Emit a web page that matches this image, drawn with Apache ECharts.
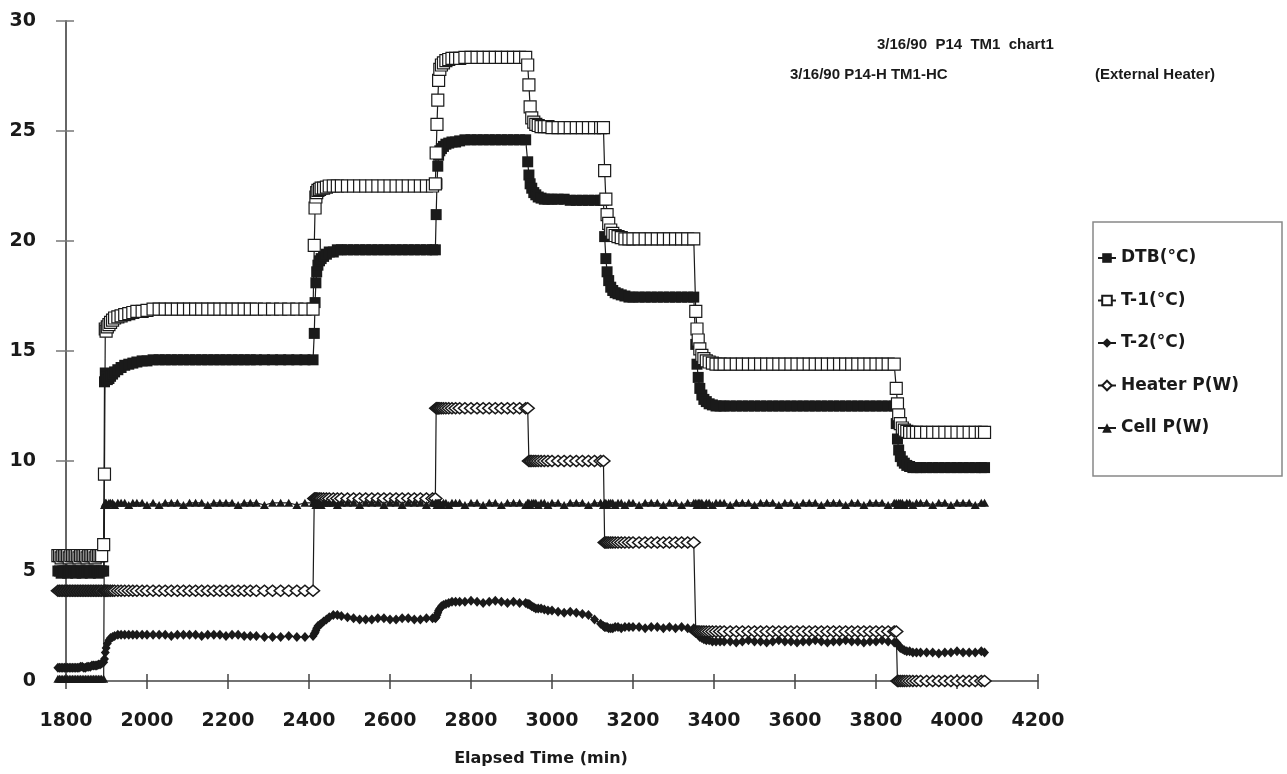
<!DOCTYPE html>
<html><head><meta charset="utf-8">
<script src="https://cdn.jsdelivr.net/npm/echarts@6/dist/echarts.min.js"></script>
<style>html,body{margin:0;padding:0;background:#fff}#c{width:1287px;height:774px}</style>
</head><body><div id="c"></div>
<script>
// Elapsed time (min), shared by all series
const time = [
  1780,1784,1788,1792,1796,1800,1804,1808,1812,1816,1820,1824,1828,1832,1836,1840,1844,1848,1852,1856,1860,1864,1868,1872,1876,1880,1884,1888,
  1893,1895,1897,1899,1902,1906,1910,1915,1920,1928,1936,1945,1955,1965,1975,1988,2000,
  2015,2030,2045,2060,2075,2090,2105,2120,2135,2150,2165,2180,2195,2210,2225,2240,2255,2270,2290,2310,2330,2350,2370,2390,2410,
  2413,2415,2417,2419,2422,2426,2430,2436,2443,2450,2460,2470,2480,2495,
  2510,2525,2540,2555,2570,2585,2600,2615,2630,2645,2660,2675,2690,2705,
  2712,2714,2716,2718,2720,2723,2727,2732,2738,2745,2753,2762,2772,2785,
  2800,2815,2830,2845,2860,2875,2890,2905,2920,2935,
  2940,2943,2946,2950,2955,2960,2966,2973,2981,2990,3000,
  3015,3030,3045,3060,3075,3090,3105,3120,3127,
  3130,3133,3136,3140,3145,3150,3156,3163,3171,3180,3190,3200,
  3215,3230,3245,3260,3275,3290,3305,3320,3335,3350,
  3355,3358,3361,3365,3370,3375,3381,3388,3396,3405,3415,3425,
  3440,3455,3470,3485,3500,3515,3530,3545,3560,3575,3590,3605,3620,3635,3650,3665,3680,3695,3710,3725,3740,3755,3770,3785,3800,3815,3830,3845,
  3850,3853,3856,3860,3865,3870,3876,3883,3891,3900,3910,
  3925,3940,3955,3970,3985,4000,4015,4030,4045,4060,4068
];
const dtb = [
  5.0,5.0,4.9,5.0,5.0,5.0,4.9,5.0,5.0,5.0,5.0,4.9,5.0,5.0,5.0,4.9,5.0,5.0,5.0,5.0,4.9,5.0,5.0,5.0,5.0,4.9,5.0,5.0,
  5.0,13.6,14.0,13.8,13.7,13.75,13.85,13.95,14.05,14.15,14.25,14.35,14.4,14.45,14.5,14.55,14.55,
  14.6,14.6,14.6,14.6,14.6,14.6,14.6,14.6,14.6,14.6,14.6,14.6,14.6,14.6,14.6,14.6,14.6,14.6,14.6,14.6,14.6,14.6,14.6,14.6,14.6,
  15.8,17.2,18.1,18.6,18.9,19.1,19.2,19.3,19.4,19.5,19.5,19.6,19.6,19.6,
  19.6,19.6,19.6,19.6,19.6,19.6,19.6,19.6,19.6,19.6,19.6,19.6,19.6,19.6,
  19.6,21.2,22.6,23.4,23.9,24.1,24.2,24.3,24.4,24.45,24.5,24.5,24.55,24.6,
  24.6,24.6,24.6,24.6,24.6,24.6,24.6,24.6,24.6,24.6,
  23.6,23.0,22.6,22.4,22.2,22.1,22.0,21.95,21.9,21.9,21.9,
  21.9,21.9,21.85,21.85,21.85,21.85,21.85,21.85,21.85,
  20.2,19.2,18.6,18.2,17.9,17.75,17.65,17.6,17.55,17.5,17.45,17.45,
  17.45,17.45,17.45,17.45,17.45,17.45,17.45,17.45,17.45,17.45,
  15.3,14.4,13.8,13.3,13.0,12.8,12.7,12.6,12.55,12.5,12.5,12.5,
  12.5,12.5,12.5,12.5,12.5,12.5,12.5,12.5,12.5,12.5,12.5,12.5,12.5,12.5,12.5,12.5,12.5,12.5,12.5,12.5,12.5,12.5,12.5,12.5,12.5,12.5,12.5,12.5,
  11.7,11.0,10.5,10.2,10.0,9.9,9.8,9.75,9.7,9.7,9.7,
  9.7,9.7,9.7,9.7,9.7,9.7,9.7,9.7,9.7,9.7,9.7
];
const t1 = [
  5.7,5.7,5.6,5.7,5.7,5.7,5.7,5.6,5.7,5.7,5.7,5.7,5.7,5.6,5.7,5.7,5.7,5.7,5.6,5.7,5.7,5.7,5.7,5.6,5.7,5.7,5.7,5.7,
  6.2,9.4,16.0,15.9,16.1,16.2,16.3,16.4,16.5,16.55,16.6,16.65,16.7,16.75,16.8,16.8,16.85,
  16.9,16.9,16.9,16.9,16.9,16.9,16.9,16.9,16.9,16.9,16.9,16.9,16.9,16.9,16.9,16.9,16.9,16.9,16.9,16.9,16.9,16.9,16.9,16.9,16.9,
  19.8,21.5,22.0,22.2,22.3,22.35,22.4,22.4,22.45,22.5,22.5,22.5,22.5,22.5,
  22.5,22.5,22.5,22.5,22.5,22.5,22.5,22.5,22.5,22.5,22.5,22.5,22.5,22.5,
  22.6,24.0,25.3,26.4,27.3,27.8,28.0,28.1,28.2,28.25,28.3,28.3,28.3,28.35,
  28.35,28.35,28.35,28.35,28.35,28.35,28.35,28.35,28.35,28.35,
  28.0,27.1,26.1,25.6,25.4,25.3,25.25,25.2,25.2,25.2,25.15,
  25.15,25.15,25.15,25.15,25.15,25.15,25.15,25.15,25.15,
  23.2,21.9,21.2,20.8,20.5,20.35,20.25,20.2,20.15,20.1,20.1,20.1,
  20.1,20.1,20.1,20.1,20.1,20.1,20.1,20.1,20.1,20.1,
  16.8,16.0,15.5,15.1,14.8,14.65,14.55,14.5,14.45,14.4,14.4,14.4,
  14.4,14.4,14.4,14.4,14.4,14.4,14.4,14.4,14.4,14.4,14.4,14.4,14.4,14.4,14.4,14.4,14.4,14.4,14.4,14.4,14.4,14.4,14.4,14.4,14.4,14.4,14.4,14.4,
  13.3,12.6,12.1,11.7,11.5,11.4,11.35,11.3,11.3,11.3,11.3,
  11.3,11.3,11.3,11.3,11.3,11.3,11.3,11.3,11.3,11.3,11.3
];
const t2 = [
  0.6,0.6,0.6,0.6,0.6,0.6,0.6,0.6,0.6,0.6,0.6,0.6,0.6,0.6,0.65,0.65,0.6,0.6,0.65,0.65,0.65,0.7,0.7,0.7,0.7,0.75,0.75,0.8,
  0.85,1.0,1.3,1.5,1.7,1.85,1.95,2.0,2.05,2.1,2.1,2.1,2.1,2.1,2.1,2.1,2.1,
  2.1,2.1,2.1,2.05,2.1,2.1,2.1,2.1,2.05,2.1,2.1,2.1,2.05,2.1,2.1,2.05,2.05,2.05,2.0,2.0,2.0,2.05,2.0,2.0,2.05,
  2.15,2.2,2.3,2.4,2.5,2.55,2.6,2.7,2.8,2.9,3.0,3.0,2.95,2.9,
  2.85,2.8,2.8,2.8,2.85,2.85,2.8,2.8,2.85,2.85,2.8,2.8,2.85,2.85,
  2.85,2.9,3.0,3.1,3.2,3.3,3.4,3.45,3.5,3.55,3.6,3.6,3.6,3.6,
  3.65,3.6,3.55,3.6,3.65,3.6,3.55,3.6,3.55,3.55,
  3.5,3.5,3.45,3.4,3.35,3.3,3.3,3.3,3.25,3.2,3.2,
  3.15,3.1,3.15,3.1,3.05,3.0,2.8,2.6,2.5,
  2.45,2.45,2.45,2.4,2.4,2.4,2.45,2.45,2.4,2.45,2.45,2.45,
  2.45,2.4,2.45,2.45,2.4,2.45,2.4,2.45,2.4,2.4,
  2.3,2.2,2.1,2.0,1.95,1.9,1.85,1.85,1.8,1.8,1.8,1.8,
  1.8,1.75,1.8,1.85,1.8,1.8,1.75,1.8,1.85,1.8,1.8,1.75,1.8,1.8,1.85,1.8,1.75,1.8,1.8,1.85,1.8,1.8,1.75,1.8,1.8,1.85,1.8,1.75,
  1.75,1.7,1.6,1.5,1.45,1.4,1.35,1.35,1.3,1.3,1.3,
  1.3,1.3,1.25,1.3,1.3,1.35,1.3,1.3,1.3,1.35,1.3
];
const heater = [
  4.1,4.1,4.1,4.1,4.1,4.1,4.1,4.1,4.1,4.1,4.1,4.1,4.1,4.1,4.1,4.1,4.1,4.1,4.1,4.1,4.1,4.1,4.1,4.1,4.1,4.1,4.1,4.1,
  4.1,4.1,4.1,4.1,4.1,4.1,4.1,4.1,4.1,4.1,4.1,4.1,4.1,4.1,4.1,4.1,4.1,
  4.1,4.1,4.1,4.1,4.1,4.1,4.1,4.1,4.1,4.1,4.1,4.1,4.1,4.1,4.1,4.1,4.1,4.1,4.1,4.1,4.1,4.1,4.1,4.1,4.1,
  8.3,8.3,8.3,8.3,8.3,8.3,8.3,8.3,8.3,8.3,8.3,8.3,8.3,8.3,
  8.3,8.3,8.3,8.3,8.3,8.3,8.3,8.3,8.3,8.3,8.3,8.3,8.3,8.3,
  8.3,12.4,12.4,12.4,12.4,12.4,12.4,12.4,12.4,12.4,12.4,12.4,12.4,12.4,
  12.4,12.4,12.4,12.4,12.4,12.4,12.4,12.4,12.4,12.4,
  12.4,10.0,10.0,10.0,10.0,10.0,10.0,10.0,10.0,10.0,10.0,
  10.0,10.0,10.0,10.0,10.0,10.0,10.0,10.0,10.0,
  6.3,6.3,6.3,6.3,6.3,6.3,6.3,6.3,6.3,6.3,6.3,6.3,
  6.3,6.3,6.3,6.3,6.3,6.3,6.3,6.3,6.3,6.3,
  2.25,2.25,2.25,2.25,2.25,2.25,2.25,2.25,2.25,2.25,2.25,2.25,
  2.25,2.25,2.25,2.25,2.25,2.25,2.25,2.25,2.25,2.25,2.25,2.25,2.25,2.25,2.25,2.25,2.25,2.25,2.25,2.25,2.25,2.25,2.25,2.25,2.25,2.25,2.25,2.25,
  2.25,0,0,0,0,0,0,0,0,0,0,
  0,0,0,0,0,0,0,0,0,0,0
];
const cell = [
  0.1,0.1,0.1,0.1,0.1,0.1,0.1,0.1,0.1,0.1,0.1,0.1,0.1,0.1,0.1,0.1,0.1,0.1,0.1,0.1,0.1,0.1,0.1,0.1,0.1,0.1,0.1,0.1,
  0.1,8.0,8.1,8.1,8.0,8.1,8.1,8.1,8.0,8.1,8.1,8.1,8.0,8.1,8.1,8.1,8.0,
  8.1,8.0,8.1,8.1,8.1,8.0,8.1,8.1,8.1,8.0,8.1,8.1,8.1,8.1,8.0,8.1,8.1,8.1,8.0,8.1,8.1,8.1,8.0,8.1,8.1,
  8.1,8.1,8.0,8.1,8.1,8.1,8.0,8.1,8.1,8.1,8.1,8.0,8.1,8.1,
  8.1,8.0,8.1,8.1,8.1,8.0,8.1,8.1,8.0,8.1,8.1,8.1,8.0,8.1,
  8.1,8.1,8.0,8.1,8.1,8.1,8.0,8.1,8.1,8.0,8.1,8.1,8.1,8.0,
  8.1,8.1,8.0,8.1,8.1,8.0,8.1,8.1,8.1,8.0,
  8.1,8.1,8.0,8.1,8.1,8.1,8.0,8.1,8.1,8.0,8.1,
  8.1,8.0,8.1,8.1,8.1,8.0,8.1,8.1,8.0,
  8.1,8.1,8.0,8.1,8.1,8.1,8.0,8.1,8.1,8.0,8.1,8.1,
  8.0,8.1,8.1,8.1,8.0,8.1,8.1,8.0,8.1,8.1,
  8.1,8.0,8.1,8.1,8.1,8.0,8.1,8.1,8.0,8.1,8.1,8.1,
  8.0,8.1,8.1,8.1,8.0,8.1,8.1,8.1,8.0,8.1,8.1,8.0,8.1,8.1,8.1,8.0,8.1,8.1,8.1,8.0,8.1,8.1,8.0,8.1,8.1,8.1,8.0,8.1,
  8.1,8.0,8.1,8.1,8.1,8.0,8.1,8.1,8.0,8.1,8.1,
  8.1,8.0,8.1,8.1,8.0,8.1,8.1,8.1,8.0,8.1,8.1
];
const seriesNames = ['DTB(°C)', 'T-1(°C)', 'T-2(°C)', 'Heater P(W)', 'Cell P(W)'];
const titleLines = ['3/16/90  P14  TM1  chart1', '3/16/90 P14-H TM1-HC', '(External Heater)'];
const axisTitle = 'Elapsed Time (min)';

[dtb, t1, t2, heater, cell].forEach((a, i) => {
  if (a.length !== time.length) throw new Error('length mismatch ' + seriesNames[i] + ' ' + a.length + ' vs ' + time.length);
});

const FONT = 'DejaVu Sans';
const TFONT = 'Liberation Sans';
const INK = '#1a1a1a';
function pairs(arr) { return time.map((t, i) => [t, arr[i]]); }
function mk(name, arr, symbol, size, fill, border, bw) {
  return {
    name, type: 'line', data: pairs(arr), symbol, symbolSize: size,
    showSymbol: true, showAllSymbol: true, clip: false,
    lineStyle: { color: INK, width: 1.2 },
    itemStyle: { color: fill, borderColor: border, borderWidth: bw },
    emphasis: { disabled: true }, animation: false
  };
}
const plain = v => String(v);

const chart = echarts.init(document.getElementById('c'), null, { renderer: 'canvas' });
const grid = { left: 66, right: 249, top: 21, bottom: 93, containLabel: false };
const tStyle = { fontFamily: TFONT, fontWeight: 'bold', fontSize: 15, color: INK };
chart.setOption({
  backgroundColor: '#fff',
  animation: false,
  title: [
    { text: titleLines[0], left: 877, top: 37, padding: 0, textStyle: tStyle },
    { text: titleLines[1], left: 790, top: 67, padding: 0, textStyle: tStyle },
    { text: titleLines[2], left: 1095, top: 67, padding: 0, textStyle: tStyle }
  ],
  grid,
  legend: {
    orient: 'vertical', left: 1097, top: 248, padding: 0,
    itemWidth: 18, itemHeight: 12, itemGap: 22.5,
    textStyle: { fontFamily: FONT, fontWeight: 'bold', fontSize: 17, color: INK, lineHeight: 20 },
    data: seriesNames
  },
  graphic: [
    { type: 'rect', shape: { x: 1093, y: 222, width: 189, height: 254 }, style: { fill: 'none', stroke: '#888', lineWidth: 1.5 }, silent: true }
  ],
  xAxis: [
    {
      type: 'value', min: 1800, max: 4200, interval: 200,
      name: axisTitle, nameLocation: 'middle', nameGap: 70,
      nameTextStyle: { fontFamily: FONT, fontWeight: 'bold', fontSize: 16, color: INK, padding: [0, 22, 0, 0] },
      axisLine: { show: true, onZero: false, lineStyle: { color: '#444', width: 1.5 } },
      axisTick: { show: true, length: 8, lineStyle: { color: '#444', width: 1.5 } },
      axisLabel: { margin: 31, fontFamily: FONT, fontWeight: 'bold', fontSize: 19, color: INK, formatter: plain },
      splitLine: { show: false }
    },
    {
      type: 'value', min: 1800, max: 4200, interval: 200, position: 'bottom',
      axisLine: { show: false }, axisLabel: { show: false }, splitLine: { show: false },
      axisTick: { show: true, inside: true, length: 7, lineStyle: { color: '#444', width: 1.5 } }
    }
  ],
  yAxis: [
    {
      type: 'value', min: 0, max: 30, interval: 5,
      axisLine: { show: true, onZero: false, lineStyle: { color: '#666', width: 2 } },
      axisTick: { show: true, length: 10, lineStyle: { color: '#777', width: 1.5 } },
      axisLabel: { margin: 30, fontFamily: FONT, fontWeight: 'bold', fontSize: 19, color: INK, formatter: plain },
      splitLine: { show: false }
    },
    {
      type: 'value', min: 0, max: 30, interval: 5, position: 'left',
      axisLine: { show: false }, axisLabel: { show: false }, splitLine: { show: false },
      axisTick: { show: true, inside: true, length: 8, lineStyle: { color: '#777', width: 1.5 } }
    }
  ],
  series: [
    mk(seriesNames[0], dtb, 'rect', [11, 11], INK, INK, 0),
    mk(seriesNames[1], t1, 'rect', [12, 12], '#fff', INK, 1.2),
    mk(seriesNames[2], t2, 'diamond', [9, 10], INK, INK, 0),
    mk(seriesNames[3], heater, 'diamond', [13, 11], '#fff', INK, 1.5),
    mk(seriesNames[4], cell, 'triangle', [9, 8], INK, INK, 0)
  ]
});
</script>
</body></html>
